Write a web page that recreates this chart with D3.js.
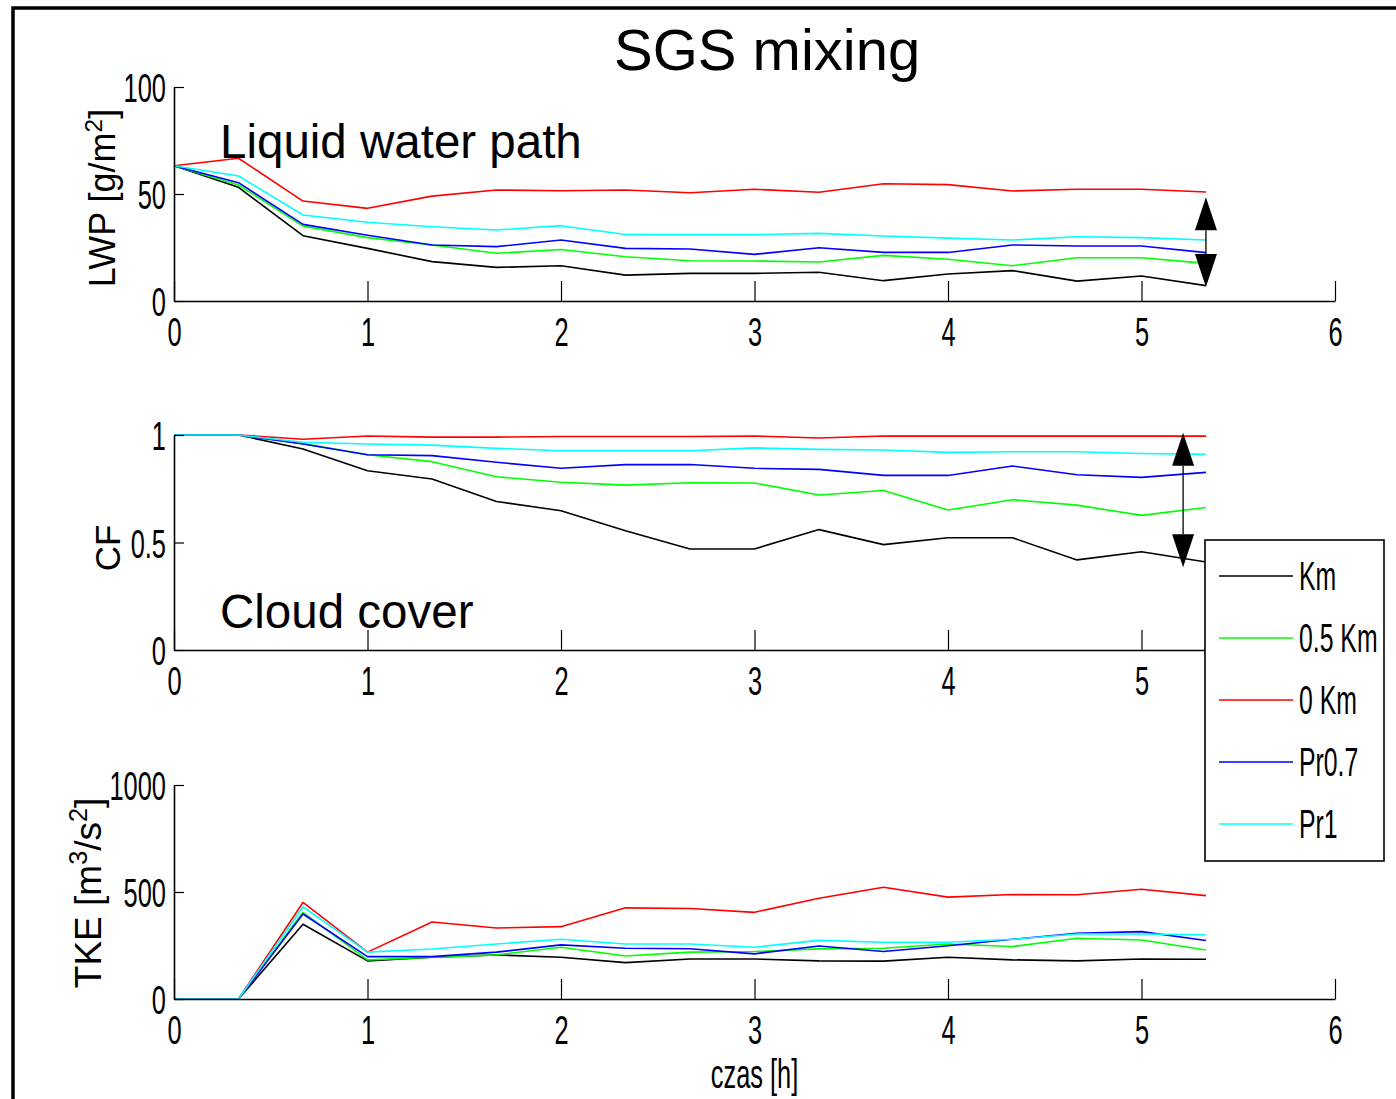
<!DOCTYPE html>
<html>
<head>
<meta charset="utf-8">
<script src="https://cdn.jsdelivr.net/npm/d3@7"></script>
<style>
  html, body { margin: 0; padding: 0; background: #fff; }
  svg { display: block; }
  text { font-family: "Liberation Sans", Arial, Helvetica, sans-serif; fill: #000; }
</style>
</head>
<body>
<svg id="chart" width="1396" height="1099"></svg>
<script>
// Simulation output times [h], every 20 minutes
const times = [0, 1/3, 2/3, 1, 4/3, 5/3, 2, 7/3, 8/3, 3, 10/3, 11/3, 4, 13/3, 14/3, 5, 16/3];

// Series names and colours (legend order)
const seriesNames  = ["Km", "0.5 Km", "0 Km", "Pr0.7", "Pr1"];
const seriesColors = ["#000000", "#00ff00", "#ff0000", "#0000ff", "#00ffff"];

// Liquid water path [g/m2]
const lwpKm   = [63.2, 53.1, 30.5, 24.6, 18.4, 15.7, 16.5, 12.1, 12.9, 12.9, 13.4, 9.5, 12.6, 14.2, 9.3, 11.7, 7.2];
const lwpK05  = [63.2, 54.2, 35.0, 29.6, 26.2, 22.3, 24.1, 20.7, 18.8, 18.7, 18.2, 21.3, 19.5, 16.5, 20.2, 20.2, 17.6];
const lwpK0   = [63.2, 66.7, 46.7, 43.3, 49.0, 51.9, 51.5, 51.9, 50.6, 52.2, 50.8, 54.8, 54.4, 51.4, 52.2, 52.2, 50.9];
const lwpPr07 = [63.2, 55.3, 35.8, 30.7, 26.2, 25.4, 28.5, 24.6, 24.3, 21.8, 24.9, 22.7, 22.7, 26.2, 25.7, 25.7, 22.6];
const lwpPr1  = [63.2, 58.4, 40.2, 36.8, 34.7, 33.2, 35.2, 31.1, 31.0, 31.0, 31.6, 30.4, 29.4, 28.5, 30.0, 29.6, 28.5];

// Cloud fraction
const cfKm   = [1, 1, 0.935, 0.834, 0.795, 0.691, 0.648, 0.555, 0.47, 0.47, 0.56, 0.49, 0.522, 0.522, 0.419, 0.457, 0.409];
const cfK05  = [1, 1, 0.96, 0.908, 0.876, 0.806, 0.78, 0.767, 0.778, 0.777, 0.721, 0.742, 0.651, 0.699, 0.674, 0.626, 0.663];
const cfK0   = [1, 1, 0.98, 0.995, 0.99, 0.99, 0.993, 0.993, 0.993, 0.995, 0.986, 0.995, 0.995, 0.995, 0.995, 0.995, 0.995];
const cfPr07 = [1, 1, 0.958, 0.908, 0.904, 0.873, 0.845, 0.862, 0.863, 0.845, 0.84, 0.812, 0.812, 0.856, 0.815, 0.803, 0.826];
const cfPr1  = [1, 1, 0.966, 0.958, 0.953, 0.938, 0.927, 0.927, 0.927, 0.94, 0.933, 0.93, 0.919, 0.922, 0.922, 0.914, 0.91];

// Turbulent kinetic energy
const tkeKm   = [0, 0, 349, 178, 195, 206, 195, 170, 187, 187, 178, 177, 195, 183, 178, 187, 186];
const tkeK05  = [0, 0, 405, 183, 195, 206, 242, 201, 219, 222, 234, 237, 257, 245, 284, 276, 229];
const tkeK0   = [0, 0, 451, 219, 360, 332, 338, 426, 423, 405, 471, 522, 476, 488, 487, 513, 483];
const tkePr07 = [0, 0, 397, 198, 198, 219, 253, 237, 235, 211, 248, 222, 249, 279, 307, 315, 273];
const tkePr1  = [0, 0, 431, 219, 234, 257, 279, 257, 257, 242, 274, 265, 265, 279, 304, 304, 300];

// Axis ticks (the middle panel's last tick sits under the legend)
const xTicks    = [0, 1, 2, 3, 4, 5, 6];
const xTicksMid = [0, 1, 2, 3, 4, 5];
const lwpTicks  = [0, 50, 100];
const cfTicks   = [0, 0.5, 1];
const tkeTicks  = [0, 500, 1000];

// Spread arrows: [time, from value, to value]
const lwpArrow = [5.333, 48.5, 6.5];
const cfArrow  = [5.215, 1.01, 0.385];

const svg = d3.select("#chart");
const NARROW = 0.62;   // horizontal squeeze of the axis lettering

// Outer frame (top and left edges)
svg.append("path")
  .attr("d", "M13,1099V8H1396")
  .attr("fill", "none").attr("stroke", "#000").attr("stroke-width", 3.5);

svg.append("text")
  .attr("x", 614).attr("y", 70)
  .attr("font-size", 58)
  .text("SGS mixing");

const x = d3.scaleLinear().domain([0, 6]).range([174, 1335]);

const panels = [
  { y: d3.scaleLinear().domain([0, 100]).range([301, 87]),  ticks: lwpTicks, xt: xTicks,
    series: [lwpKm, lwpK05, lwpK0, lwpPr07, lwpPr1] },
  { y: d3.scaleLinear().domain([0, 1]).range([650, 435]),   ticks: cfTicks,  xt: xTicksMid,
    series: [cfKm, cfK05, cfK0, cfPr07, cfPr1] },
  { y: d3.scaleLinear().domain([0, 1000]).range([999, 785]), ticks: tkeTicks, xt: xTicks,
    series: [tkeKm, tkeK05, tkeK0, tkePr07, tkePr1] }
];

panels.forEach(p => {
  const g = svg.append("g");
  const y0 = p.y.range()[0];

  // data lines
  const line = d3.line().x((d, i) => x(times[i])).y(d => p.y(d));
  p.series.forEach((s, k) => {
    g.append("path")
      .datum(s)
      .attr("d", line)
      .attr("fill", "none")
      .attr("stroke", seriesColors[k])
      .attr("stroke-width", 1.6)
      .attr("stroke-linejoin", "round");
  });

  // x axis with inward ticks
  const gx = g.append("g")
    .attr("transform", `translate(0,${y0})`)
    .call(d3.axisBottom(x).tickValues(p.xt).tickFormat(d => d)
      .tickSizeInner(-20).tickSizeOuter(0).tickPadding(16));
  // y axis with inward ticks
  const gy = g.append("g")
    .attr("transform", `translate(${x(0)},0)`)
    .call(d3.axisLeft(p.y).tickValues(p.ticks).tickFormat(d => d)
      .tickSizeInner(-10).tickSizeOuter(0).tickPadding(8));

  [gx, gy].forEach(a => {
    a.select(".domain").attr("stroke", "#000").attr("stroke-width", 1.6);
    a.selectAll(".tick line").attr("stroke", "#000").attr("stroke-width", 1.2);
    a.selectAll(".tick text")
      .attr("font-family", "'Liberation Sans', Arial, sans-serif")
      .attr("font-size", 41)
      .attr("fill", "#000");
  });
  gx.selectAll(".tick text").attr("transform", `scale(${NARROW},1)`);
  gy.selectAll(".tick text")
    .attr("dy", "0.36em")
    .attr("x", -8 / NARROW)
    .attr("transform", `scale(${NARROW},1)`);
});

// Y axis titles (rotated)
function yTitle(cx, cy, parts, size) {
  const t = svg.append("text")
    .attr("transform", `translate(${cx},${cy}) rotate(-90)`)
    .attr("text-anchor", "middle")
    .attr("font-size", size);
  parts.forEach(([str, sup]) => {
    const ts = t.append("tspan").text(str);
    if (sup) ts.attr("font-size", size * 0.68).attr("baseline-shift", "super");
  });
}
yTitle(115, 198, [["LWP [g/m"], ["2", true], ["]"]], 36);
yTitle(120, 548, [["CF"]], 35);
yTitle(101, 893, [["TKE [m"], ["3", true], ["/s"], ["2", true], ["]"]], 37);

// X axis title
svg.append("text")
  .attr("transform", `translate(${x(3)},1088) scale(${NARROW},1)`)
  .attr("text-anchor", "middle")
  .attr("font-size", 41)
  .text("czas [h]");

// Panel captions
svg.append("text").attr("x", 220).attr("y", 158).attr("font-size", 47.5).text("Liquid water path");
svg.append("text").attr("x", 220).attr("y", 628).attr("font-size", 47.5).text("Cloud cover");

// Double-headed arrows marking the spread between runs
function spreadArrow(yScale, [t, v1, v2]) {
  const ax = x(t), ya = yScale(v1), yb = yScale(v2);
  const head = 33, half = 11;
  svg.append("line")
    .attr("x1", ax).attr("x2", ax).attr("y1", ya + head).attr("y2", yb - head)
    .attr("stroke", "#000").attr("stroke-width", 1.3);
  svg.append("path")
    .attr("d", `M${ax},${ya}L${ax - half},${ya + head}L${ax + half},${ya + head}Z`)
    .attr("fill", "#000");
  svg.append("path")
    .attr("d", `M${ax},${yb}L${ax - half},${yb - head}L${ax + half},${yb - head}Z`)
    .attr("fill", "#000");
}
spreadArrow(panels[0].y, lwpArrow);
spreadArrow(panels[1].y, cfArrow);

// Legend
const lg = svg.append("g").attr("transform", "translate(1205,540)");
lg.append("rect")
  .attr("width", 179).attr("height", 321)
  .attr("fill", "#fff").attr("stroke", "#000").attr("stroke-width", 1.6);
seriesNames.forEach((name, k) => {
  const yy = 36 + k * 62;
  lg.append("line")
    .attr("x1", 14).attr("x2", 88).attr("y1", yy).attr("y2", yy)
    .attr("stroke", seriesColors[k]).attr("stroke-width", 1.6);
  lg.append("text")
    .attr("transform", `translate(94,${yy}) scale(${NARROW},1)`)
    .attr("dy", "0.36em")
    .attr("font-size", 40)
    .text(name);
});
</script>
</body>
</html>
